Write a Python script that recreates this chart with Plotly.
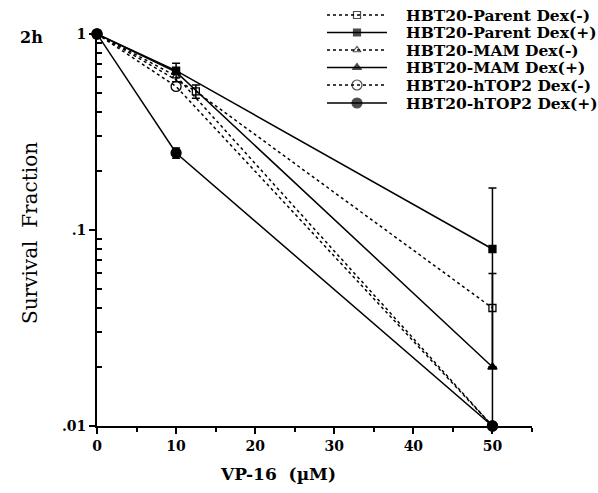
import plotly.graph_objects as go

# ---- data ----
series_names = ["HBT20-Parent Dex(-)", "HBT20-Parent Dex(+)", "HBT20-MAM Dex(-)",
                "HBT20-MAM Dex(+)", "HBT20-hTOP2 Dex(-)", "HBT20-hTOP2 Dex(+)"]
parent_minus_x = [0, 12.5, 50]
parent_minus_y = [1.0, 0.51, 0.04]
parent_minus_err_plus = [0, 0.04, 0.02]
parent_minus_err_minus = [0, 0.04, 0.02]

parent_plus_x = [0, 10, 50]
parent_plus_y = [1.0, 0.65, 0.08]
parent_plus_err_plus = [0, 0, 0.084]
parent_plus_err_minus = [0, 0, 0.0705]

mam_minus_x = [0, 10, 50]
mam_minus_y = [1.0, 0.61, 0.01]

mam_plus_x = [0, 10, 50]
mam_plus_y = [1.0, 0.64, 0.02]
mam_plus_err = [0, 0.07, 0]

htop2_minus_x = [0, 10, 50]
htop2_minus_y = [1.0, 0.54, 0.01]

htop2_plus_x = [0, 10, 50]
htop2_plus_y = [1.0, 0.247, 0.01]
htop2_plus_err = [0, 0.015, 0]

x_ticks = [0, 10, 20, 30, 40, 50]
y_ticks = [1, 0.1, 0.01]
y_tick_labels = ["1", ".1", ".01"]

# ---- styles ----
DOT = "3px,3px"
styles = [
    dict(dash=DOT, symbol="square-open", size=7),
    dict(dash="solid", symbol="square", size=7),
    dict(dash=DOT, symbol="triangle-up-open", size=7),
    dict(dash="solid", symbol="triangle-up", size=8),
    dict(dash=DOT, symbol="circle-open", size=10),
    dict(dash="solid", symbol="circle", size=10),
]

def err(plus, minus=None):
    return dict(type="data", symmetric=False, array=plus,
                arrayminus=minus if minus is not None else plus,
                color="black", thickness=1.5, width=4)

data = [
    (parent_minus_x, parent_minus_y, err(parent_minus_err_plus, parent_minus_err_minus)),
    (parent_plus_x, parent_plus_y, err(parent_plus_err_plus, parent_plus_err_minus)),
    (mam_minus_x, mam_minus_y, None),
    (mam_plus_x, mam_plus_y, err(mam_plus_err)),
    (htop2_minus_x, htop2_minus_y, None),
    (htop2_plus_x, htop2_plus_y, err(htop2_plus_err)),
]

W, H = 598, 493
L, R, T, B = 97, 532, 34, 426

fig = go.Figure()
for (xs, ys, e), st, nm in zip(data, styles, series_names):
    kw = dict(x=xs, y=ys, mode="lines+markers", name=nm, showlegend=False,
              cliponaxis=False,
              line=dict(color="black", width=1.5, dash=st["dash"]),
              marker=dict(symbol=st["symbol"], size=st["size"], color="black",
                          line=dict(color="black", width=1.3)))
    if e is not None:
        kw["error_y"] = e
    fig.add_trace(go.Scatter(**kw))

# ---- manual legend (glyphs on a full-figure overlay axis in pixel units) ----
row_y = [15, 32.5, 50, 67.5, 85, 103]
for st, nm, ry in zip(styles, series_names, row_y):
    fig.add_trace(go.Scatter(
        x=[327, 357, 387], y=[ry, ry, ry], xaxis="x2", yaxis="y2",
        mode="lines+markers", showlegend=False, cliponaxis=False, hoverinfo="skip",
        line=dict(color="black", width=1.3, dash=st["dash"]),
        marker=dict(symbol=st["symbol"], size=[0, st["size"], 0], color="black",
                    line=dict(color="black", width=1.2))))
    fig.add_annotation(x=404, y=ry, xref="x2", yref="y2", text="<b>" + nm + "</b>",
                       showarrow=False, xanchor="left", yanchor="middle",
                       font=dict(family="DejaVu Serif", size=15.5, color="black"))

fig.add_annotation(x=18, y=37, xref="x2", yref="y2", text="<b>2h</b>", showarrow=False,
                   xanchor="left", yanchor="middle",
                   font=dict(family="DejaVu Serif", size=16, color="black"))
fig.add_annotation(x=278, y=474, xref="x2", yref="y2", text="<b>VP-16  (µM)</b>",
                   showarrow=False, xanchor="center", yanchor="middle",
                   font=dict(family="DejaVu Serif", size=17, color="black"))
fig.add_annotation(x=30, y=233, xref="x2", yref="y2", text="Survival  Fraction",
                   showarrow=False, textangle=-90, xanchor="center", yanchor="middle",
                   font=dict(family="DejaVu Serif", size=20, color="black"))

tickfont = dict(family="DejaVu Serif", size=14, color="black")
fig.update_layout(
    width=W, height=H,
    margin=dict(l=0, r=0, t=0, b=0),
    paper_bgcolor="white", plot_bgcolor="rgba(0,0,0,0)",
    xaxis=dict(domain=[L / W, R / W], anchor="y", automargin=False,
               range=[0, 55], tickvals=x_ticks, ticktext=["<b>%d</b>" % v for v in x_ticks],
               ticks="outside", ticklen=6, tickwidth=1.5, tickcolor="black",
               minor=dict(dtick=5, ticks="outside", ticklen=4, tickwidth=1.5, tickcolor="black"),
               showline=True, linecolor="black", linewidth=1.8, showgrid=False,
               zeroline=False, tickfont=tickfont, ticklabelstandoff=0),
    yaxis=dict(domain=[(H - B) / H, (H - T) / H], anchor="x", automargin=False,
               type="log", range=[-2, 0], tickvals=y_ticks,
               ticktext=["<b>%s</b>" % t for t in y_tick_labels],
               ticks="outside", ticklen=6, tickwidth=1.5, tickcolor="black",
               minor=dict(tickvals=[0.02, 0.03, 0.04, 0.05, 0.06, 0.07, 0.08, 0.09,
                                    0.2, 0.3, 0.4, 0.5, 0.6, 0.7, 0.8, 0.9],
                          ticks="inside", ticklen=5, tickwidth=1.5, tickcolor="black"),
               showline=True, linecolor="black", linewidth=1.8, showgrid=False,
               zeroline=False, tickfont=tickfont),
    xaxis2=dict(domain=[0, 1], anchor="y2", range=[0, W], visible=False, fixedrange=True),
    yaxis2=dict(domain=[0, 1], anchor="x2", range=[H, 0], visible=False, fixedrange=True),
    font=dict(family="DejaVu Serif", color="black"),
)

fig.write_html("out.html", config={"displayModeBar": False},
               post_script="document.body.style.margin='0';document.body.style.padding='0';")
